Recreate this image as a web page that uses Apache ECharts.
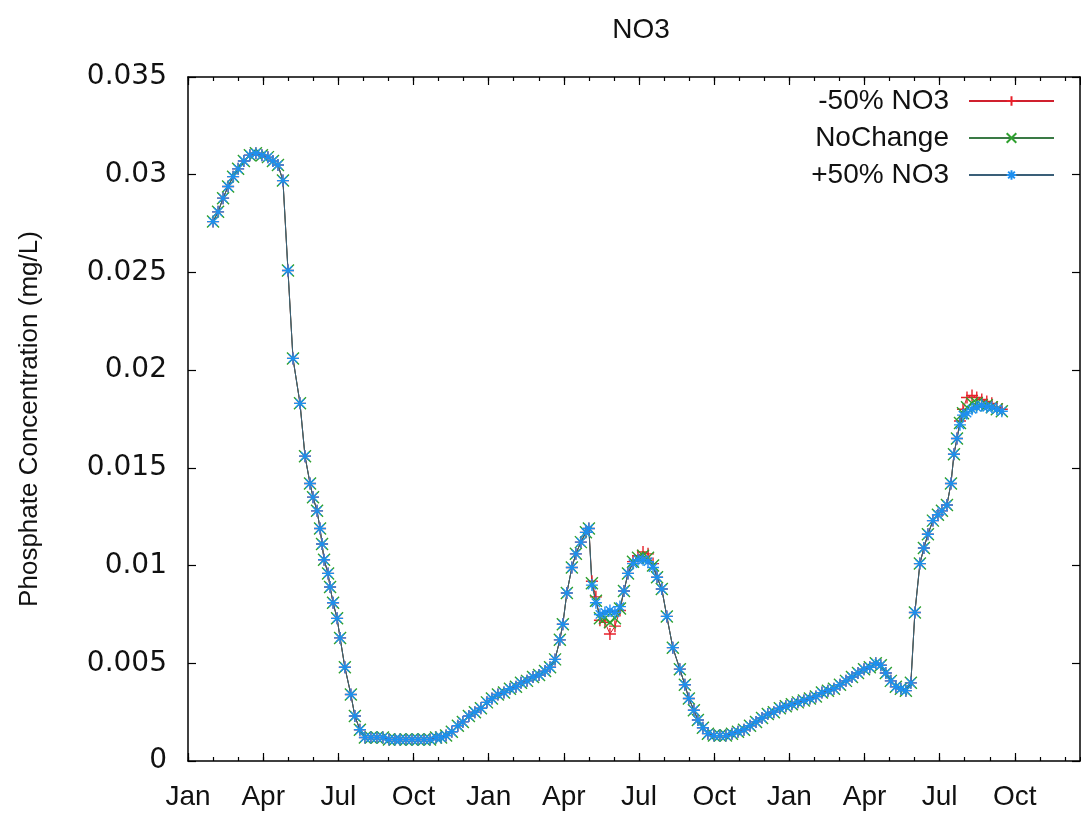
<!DOCTYPE html>
<html>
<head>
<meta charset="utf-8">
<script src="https://cdn.jsdelivr.net/npm/echarts@6/dist/echarts.min.js"></script>
<style>
html,body{margin:0;padding:0;background:#fff;}
#chart{width:1081px;height:813px;}
</style>
</head>
<body>
<div id="chart"></div>
<script>
// x positions in months since Jan 1 of the first year
const xMonths = [
 1.00,1.20,1.40,1.60,1.80,2.00,2.23,2.47,2.71,2.95,3.19,3.39,3.59,3.79,
 3.99,4.19,4.47,4.67,4.87,4.99,5.15,5.27,5.35,5.43,5.59,5.67,5.79,5.95,6.07,6.26,6.50,6.66,6.86,7.06,
 7.30,7.54,7.78,8.02,8.26,8.46,8.70,8.94,9.18,9.42,9.66,9.90,10.10,10.30,
 10.53,10.77,10.97,11.21,11.45,11.69,11.93,12.13,12.37,12.61,12.85,13.09,13.29,13.53,13.77,14.01,14.25,14.45,14.65,
 14.84,14.96,15.12,15.32,15.48,15.68,15.88,16.00,16.12,16.28,16.44,16.64,16.84,17.04,17.24,17.40,17.56,17.76,17.96,
 18.16,18.36,18.56,18.72,18.91,19.11,19.35,19.63,19.83,19.99,20.19,20.35,20.55,20.75,20.99,21.23,21.47,21.71,21.95,
 22.19,22.43,22.67,22.91,23.14,23.38,23.62,23.86,24.10,24.34,24.58,24.82,25.06,25.30,25.54,25.78,26.02,26.26,26.50,
 26.74,26.98,27.21,27.45,27.65,27.85,28.05,28.25,28.45,28.65,28.85,
 29.01,29.21,29.37,29.53,29.73,29.93,30.09,30.29,30.45,30.57,30.69,30.81,30.93,31.09,31.29,31.48,31.68,31.88,32.08,32.28,32.48
];
const plus50 = [
 0.0276,0.0281,0.0288,0.0294,0.0299,0.0303,0.0307,0.0310,0.0311,0.0310,0.0309,0.0307,0.0305,0.0297,
 0.0251,0.0206,0.0183,0.0156,0.0142,0.0135,0.0128,0.0119,0.0111,0.0103,0.0096,0.0089,0.0081,0.0073,0.0063,0.0048,0.0034,0.0023,0.0016,0.0012,
 0.0012,0.0012,0.0012,0.0011,0.0011,0.0011,0.0011,0.0011,0.0011,0.0011,0.0011,0.0012,0.0012,0.0013,
 0.0015,0.0018,0.0020,0.0023,0.0025,0.0027,0.0030,0.0032,0.0034,0.0035,0.0037,0.0038,0.0040,0.0041,0.0043,0.0044,0.0046,0.0048,0.0052,
 0.0062,0.0070,0.0086,0.0099,0.0106,0.0112,0.0117,0.0119,0.0090,0.0081,0.0075,0.0076,0.0077,0.0076,0.0079,0.0087,0.0096,0.0101,0.0103,
 0.0103,0.0102,0.0099,0.0094,0.0088,0.0074,0.0058,0.0047,0.0039,0.0032,0.0026,0.0021,0.0017,0.0014,0.0013,0.0013,0.0013,0.0014,0.0015,
 0.0016,0.0018,0.0020,0.0022,0.0024,0.0025,0.0027,0.0028,0.0029,0.0030,0.0031,0.0032,0.0033,0.0035,0.0036,0.0037,0.0039,0.0041,0.0043,
 0.0045,0.0047,0.0048,0.0050,0.0049,0.0045,0.0041,0.0038,0.0037,0.0036,0.0040,
 0.0076,0.0101,0.0109,0.0116,0.0123,0.0126,0.0128,0.0131,0.0142,0.0157,0.0165,0.0172,0.0177,0.0178,0.0180,0.0181,0.0182,0.0181,0.0181,0.0180,0.0179
];
const noChange = [
 0.0276,0.0281,0.0288,0.0294,0.0299,0.0303,0.0307,0.0310,0.0311,0.0310,0.0309,0.0307,0.0305,0.0297,
 0.0251,0.0206,0.0183,0.0156,0.0142,0.0135,0.0128,0.0119,0.0111,0.0103,0.0096,0.0089,0.0081,0.0073,0.0063,0.0048,0.0034,0.0023,0.0016,0.0012,
 0.0012,0.0012,0.0012,0.0011,0.0011,0.0011,0.0011,0.0011,0.0011,0.0011,0.0011,0.0012,0.0012,0.0013,
 0.0015,0.0018,0.0020,0.0023,0.0025,0.0027,0.0030,0.0032,0.0034,0.0035,0.0037,0.0038,0.0040,0.0041,0.0043,0.0044,0.0046,0.0048,0.0052,
 0.0062,0.0070,0.0086,0.0099,0.0106,0.0112,0.0117,0.0119,0.0091,0.0082,0.0073,0.0073,0.0071,0.0073,0.0078,0.0087,0.0096,0.0102,0.0104,
 0.0105,0.0104,0.0100,0.0094,0.0088,0.0074,0.0058,0.0047,0.0039,0.0032,0.0026,0.0021,0.0017,0.0014,0.0013,0.0013,0.0013,0.0014,0.0015,
 0.0016,0.0018,0.0020,0.0022,0.0024,0.0025,0.0027,0.0028,0.0029,0.0030,0.0031,0.0032,0.0033,0.0035,0.0036,0.0037,0.0039,0.0041,0.0043,
 0.0045,0.0047,0.0048,0.0050,0.0049,0.0045,0.0041,0.0038,0.0037,0.0036,0.0040,
 0.0076,0.0101,0.0109,0.0116,0.0123,0.0126,0.0128,0.0131,0.0142,0.0157,0.0165,0.0173,0.0178,0.0181,0.0183,0.0183,0.0182,0.0182,0.0181,0.0180,0.0179
];
const minus50 = [
 0.0276,0.0281,0.0288,0.0294,0.0299,0.0303,0.0307,0.0310,0.0311,0.0310,0.0309,0.0307,0.0305,0.0297,
 0.0251,0.0206,0.0183,0.0156,0.0142,0.0135,0.0128,0.0119,0.0111,0.0103,0.0096,0.0089,0.0081,0.0073,0.0063,0.0048,0.0034,0.0023,0.0016,0.0012,
 0.0012,0.0012,0.0012,0.0011,0.0011,0.0011,0.0011,0.0011,0.0011,0.0011,0.0011,0.0012,0.0012,0.0013,
 0.0015,0.0018,0.0020,0.0023,0.0025,0.0027,0.0030,0.0032,0.0034,0.0035,0.0037,0.0038,0.0040,0.0041,0.0043,0.0044,0.0046,0.0048,0.0052,
 0.0062,0.0070,0.0086,0.0099,0.0106,0.0112,0.0117,0.0119,0.0092,0.0084,0.0072,0.0071,0.0065,0.0069,0.0077,0.0087,0.0096,0.0102,0.0105,
 0.0107,0.0106,0.0101,0.0094,0.0088,0.0074,0.0058,0.0047,0.0039,0.0032,0.0026,0.0021,0.0017,0.0014,0.0013,0.0013,0.0013,0.0014,0.0015,
 0.0016,0.0018,0.0020,0.0022,0.0024,0.0025,0.0027,0.0028,0.0029,0.0030,0.0031,0.0032,0.0033,0.0035,0.0036,0.0037,0.0039,0.0041,0.0043,
 0.0045,0.0047,0.0048,0.0050,0.0049,0.0045,0.0041,0.0038,0.0037,0.0036,0.0040,
 0.0076,0.0101,0.0109,0.0116,0.0123,0.0126,0.0128,0.0131,0.0142,0.0157,0.0165,0.0174,0.0180,0.0186,0.0187,0.0186,0.0185,0.0184,0.0183,0.0181,0.0180
];
const xTickLabels = ['Jan','Apr','Jul','Oct','Jan','Apr','Jul','Oct','Jan','Apr','Jul','Oct'];
const seriesNames = ['-50% NO3','NoChange','+50% NO3'];
const chartTitle = 'NO3';
const yAxisTitle = 'Phosphate Concentration (mg/L)';

const X_MAX = 35.6;
const FONT = 'Liberation Sans';
const FS = 28;
const PLOT_W = 1081 - 188 - 1;

function pairs(vals){ return xMonths.map((x,i)=>[x, vals[i]]); }

const plusPath = 'path://M0,5L10,5M5,0L5,10';
const crossPath = 'path://M0,0L10,10M10,0L0,10';
const starPath = 'path://M0,5L10,5M5,0L5,10M1.5,1.5L8.5,8.5M8.5,1.5L1.5,8.5';

function mkSeries(name, vals, lineColor, markColor, sym){
  return {
    name, type:'line', data: pairs(vals), xAxisIndex:0, yAxisIndex:0,
    symbol: sym, symbolSize: 12, showAllSymbol: true,
    lineStyle:{color: lineColor, width: 1},
    itemStyle:{color: markColor, borderColor: markColor, borderWidth: 1.4},
    emphasis:{disabled:true}, animation:false
  };
}

const tickStyle = {color:'#000', width:1.2};
const lineStyleAx = {color:'#000', width:1.5};
const baseX = {type:'value', min:0, max:X_MAX, splitLine:{show:false}};
const chart = echarts.init(document.getElementById('chart'), null, {renderer:'canvas'});
chart.setOption({
  backgroundColor:'#fff',
  animation:false,
  textStyle:{fontFamily:FONT},
  title:{text:chartTitle, left:'636', textAlign:'center', top:11,
    textStyle:{fontFamily:FONT, fontSize:FS, fontWeight:'normal', color:'#111'}},
  grid:{left:188, right:1, top:77, bottom:52, containLabel:false},
  legend:{
    data: seriesNames, orient:'vertical', right:21, top:82, align:'right',
    itemWidth:85, itemHeight:12, itemGap:9,
    textStyle:{fontFamily:FONT, fontSize:FS, color:'#111', padding:[0,15,0,0]}
  },
  xAxis:[
    Object.assign({}, baseX, {position:'bottom', interval:3,
      axisLine:{show:true, onZero:false, lineStyle:lineStyleAx},
      axisTick:{show:true, inside:true, length:8, lineStyle:tickStyle},
      axisLabel:{show:true, margin:22, fontFamily:FONT, fontSize:FS, color:'#111', showMaxLabel:false,
        formatter:function(v){ const i=Math.round(v/3); if(Math.abs(v-i*3)>1e-6) return ''; return xTickLabels[i]||''; }}}),
    Object.assign({}, baseX, {position:'bottom', interval:1,
      axisLine:{show:false, onZero:false}, axisTick:{show:true, inside:true, length:4, lineStyle:tickStyle},
      axisLabel:{show:false}}),
    Object.assign({}, baseX, {position:'top', interval:3,
      axisLine:{show:true, onZero:false, lineStyle:lineStyleAx},
      axisTick:{show:true, inside:true, length:8, lineStyle:tickStyle},
      axisLabel:{show:false}}),
    Object.assign({}, baseX, {position:'top', interval:1,
      axisLine:{show:false, onZero:false}, axisTick:{show:true, inside:true, length:4, lineStyle:tickStyle},
      axisLabel:{show:false}})
  ],
  yAxis:[
    {type:'value', position:'left', min:0, max:0.035, interval:0.005,
      name:yAxisTitle, nameLocation:'middle', nameGap:145, nameRotate:90,
      nameTextStyle:{fontFamily:FONT, fontSize:26, color:'#111'},
      axisLine:{show:true, onZero:false, lineStyle:lineStyleAx},
      axisTick:{show:false},
      axisLabel:{margin:21, fontFamily:'DejaVu Sans', fontSize:28, color:'#111'},
      splitLine:{show:false}},
    {type:'value', position:'right', min:0, max:0.035, interval:0.005,
      axisLine:{show:true, onZero:false, lineStyle:lineStyleAx},
      axisTick:{show:true, inside:true, length:8, lineStyle:tickStyle},
      axisLabel:{show:false}, splitLine:{show:false}},
    // tick marks for the left edge, pointing into the plot
    {type:'value', position:'right', offset:-PLOT_W, min:0, max:0.035, interval:0.005,
      axisLine:{show:false, onZero:false},
      axisTick:{show:true, inside:false, length:8, lineStyle:tickStyle},
      axisLabel:{show:false}, splitLine:{show:false}}
  ],
  series:[
    mkSeries(seriesNames[0], minus50, '#d0202e', '#e8202a', plusPath),
    mkSeries(seriesNames[1], noChange, '#3a7a45', '#2ea02e', crossPath),
    mkSeries(seriesNames[2], plus50, '#3a5f78', '#1e8fef', starPath)
  ]
});
</script>
</body>
</html>
